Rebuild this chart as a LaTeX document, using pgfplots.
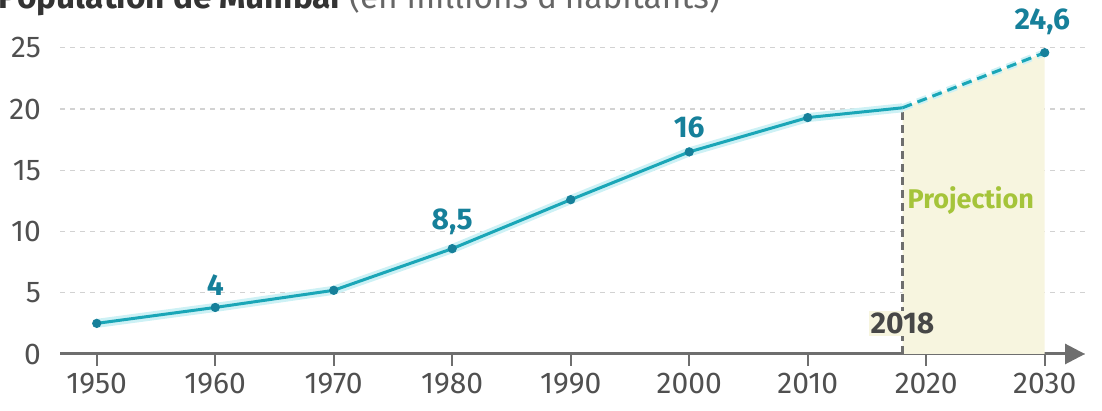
\documentclass[border=0pt]{standalone}
\usepackage{fontspec}
\setmainfont{Fira Sans}
\usepackage{pgfplots}
\pgfplotsset{compat=1.18}
\usetikzlibrary{arrows.meta}

\definecolor{lineteal}{HTML}{1AA6B7}
\definecolor{darkteal}{HTML}{16809A}
\definecolor{halo}{HTML}{CDF1F5}
\definecolor{gridc}{HTML}{D2D2D2}
\definecolor{axisc}{HTML}{6E6E6E}
\definecolor{tickc}{HTML}{505050}
\definecolor{projbg}{HTML}{F7F5DF}
\definecolor{projtxt}{HTML}{A5C43A}

\begin{document}
\begin{tikzpicture}
\begin{axis}[
    scale only axis,
    width=512.5pt, height=162.3pt,
    xmin=1946.9, xmax=2033.4,
    ymin=0, ymax=26.5,
    axis x line*=bottom,
    axis y line*=left,
    y axis line style={draw=none},
    x axis line style={-{Triangle[length=10pt,width=10pt]}, line width=1.5pt, color=axisc},
    xtick={1950,1960,...,2030},
    ytick={0,5,...,25},
    xtick style={line width=1pt, color=axisc},
    ytick style={draw=none},
    tick align=outside,
    major tick length=6pt,
    ymajorgrids,
    grid style={gridc, line width=0.7pt, dash pattern=on 2.5pt off 2.5pt},
    /pgf/number format/assume math mode=true,
    /pgf/number format/1000 sep={},
    ticklabel style={font=\fontsize{15}{17}\selectfont, text=tickc},
    clip=false,
]
% projection area
\addplot[fill=projbg, draw=none] coordinates {(2018,20.1) (2030,24.6)} \closedcycle;
\addplot[axisc, line width=1.2pt, dash pattern=on 4pt off 2.5pt] coordinates {(2018,0) (2018,20.1)};

% halo
\addplot[halo, line width=4.5pt] coordinates {
  (1950,2.5) (1960,3.8) (1970,5.2) (1980,8.6) (1990,12.6) (2000,16.5) (2010,19.3) (2018,20.1)};
\addplot[halo, line width=3.5pt, dash pattern=on 5pt off 3pt] coordinates {(2018,20.1) (2030,24.6)};

% main line
\addplot[lineteal, line width=1.5pt] coordinates {
  (1950,2.5) (1960,3.8) (1970,5.2) (1980,8.6) (1990,12.6) (2000,16.5) (2010,19.3) (2018,20.1)};
\addplot[lineteal, line width=1.5pt, dash pattern=on 5pt off 3pt] coordinates {(2018,20.1) (2030,24.6)};
\addplot[only marks, mark=*, mark size=2.1pt, darkteal] coordinates {
  (1950,2.5) (1960,3.8) (1970,5.2) (1980,8.6) (1990,12.6) (2000,16.5) (2010,19.3) (2030,24.6)};

% labels
\begin{scope}[every node/.style={font=\fontsize{15}{17}\selectfont\bfseries, text=darkteal}]
\node at (axis cs:1960,5.65) {4};
\node at (axis cs:1980,10.8) {8,5};
\node at (axis cs:2000,18.5) {16};
\node at (axis cs:2029.8,27.1) {24,6};
\end{scope}
\node[font=\fontsize{15}{17}\selectfont\bfseries, text=black!72, fill=projbg, inner sep=1pt] at (axis cs:2018,2.5) {2018};
\node[anchor=west, inner sep=0pt, font=\fontsize{13.5}{15}\selectfont\bfseries, text=projtxt] at (axis cs:2018.4,12.5) {Projection};
\end{axis}

\node[anchor=base west, inner sep=0pt, font=\fontsize{16.7}{19}\selectfont] at (-31pt,172.5pt)
  {\textcolor{black!80}{\bfseries Population de Mumbai} \textcolor{black!60}{(en millions d'habitants)}};

\pgfresetboundingbox
\path (-30pt,-28.5pt) rectangle (521pt,177pt);
\end{tikzpicture}
\end{document}
